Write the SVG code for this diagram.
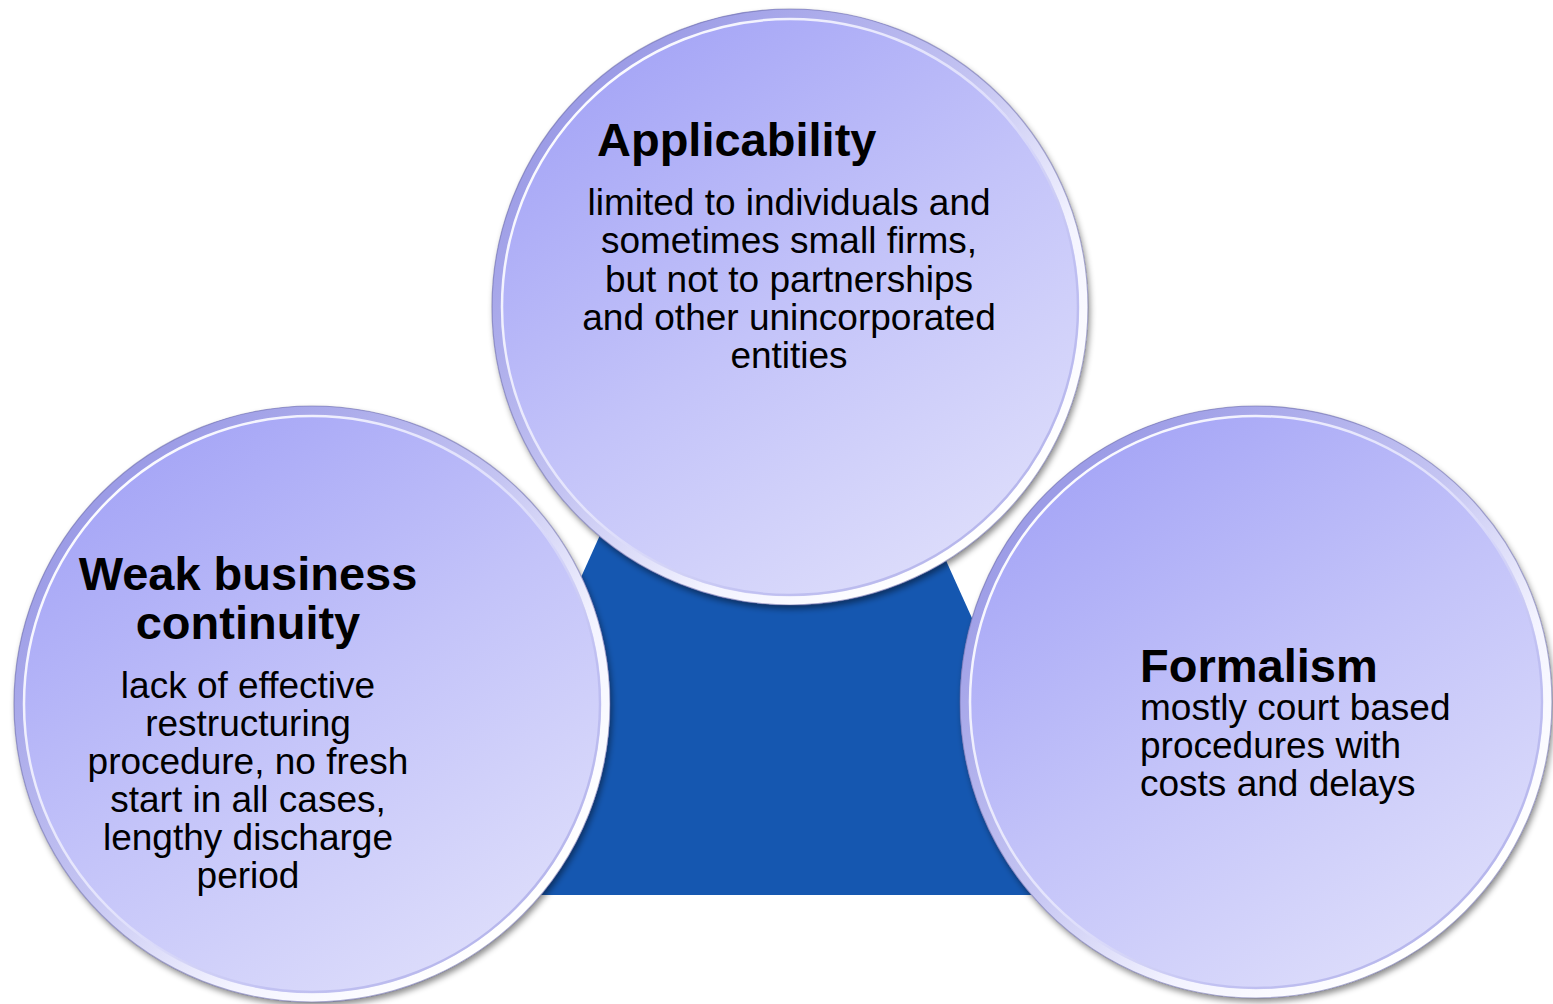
<svg xmlns="http://www.w3.org/2000/svg" width="1553" height="1004" viewBox="0 0 1553 1004">
  <defs>
    <!-- lavender body of each disc: darker at top-left, paler toward bottom-right -->
    <linearGradient id="discFill" x1="0.2" y1="0.05" x2="0.8" y2="0.95">
      <stop offset="0" stop-color="#a4a4f6"/>
      <stop offset="0.5" stop-color="#c3c3f9"/>
      <stop offset="1" stop-color="#dedefb"/>
    </linearGradient>
    <!-- bevelled rim: shaded on the upper-left, catching light on the lower-right -->
    <linearGradient id="rimBand" x1="0.15" y1="0.15" x2="0.85" y2="0.85">
      <stop offset="0" stop-color="#9c9ce6"/>
      <stop offset="0.45" stop-color="#c4c4f2"/>
      <stop offset="0.75" stop-color="#f4f4ff"/>
      <stop offset="1" stop-color="#ffffff"/>
    </linearGradient>
    <linearGradient id="rimGlint" x1="0.15" y1="0.15" x2="0.85" y2="0.85">
      <stop offset="0" stop-color="#ffffff" stop-opacity="0.95"/>
      <stop offset="0.5" stop-color="#ffffff" stop-opacity="0.5"/>
      <stop offset="0.8" stop-color="#b4b4ec" stop-opacity="0.6"/>
      <stop offset="1" stop-color="#a8a8e6" stop-opacity="0.7"/>
    </linearGradient>
    <filter id="discShadow" x="-10%" y="-10%" width="125%" height="125%">
      <feDropShadow dx="2" dy="4" stdDeviation="3" flood-color="#000000" flood-opacity="0.45"/>
    </filter>
    <style>
      .disc { fill: url(#discFill); filter: url(#discShadow); }
      .rim { fill: none; stroke: url(#rimBand); stroke-width: 9; }
      .glint { fill: none; stroke: url(#rimGlint); stroke-width: 2.5; }
      .edge { fill: none; stroke: #6c6ca6; stroke-opacity: 0.55; stroke-width: 1.2; }
      .title { font-family: "Liberation Sans", Arial, sans-serif; font-weight: bold; font-size: 47px; fill: #000000; }
      .body { font-family: "Liberation Sans", Arial, sans-serif; font-size: 37px; fill: #000000; }
      .mid { text-anchor: middle; }
    </style>
  </defs>

  <rect width="1553" height="1004" fill="#ffffff"/>

  <!-- blue triangle behind the three discs -->
  <g id="backdrop">
    <polygon points="767,164 1097,895 438,895" fill="#1557b0"/>
  </g>

  <g id="connectors"/>

  <!-- left disc -->
  <g id="node-continuity">
    <circle class="disc" cx="312" cy="704" r="298"/>
    <circle class="rim" cx="312" cy="704" r="293.5"/>
    <circle class="glint" cx="312" cy="704" r="288"/>
    <circle class="edge" cx="312" cy="704" r="298"/>
    <text class="title mid" x="248" y="590">Weak business</text>
    <text class="title mid" x="248" y="639">continuity</text>
    <text class="body mid" x="248" y="698">lack of effective</text>
    <text class="body mid" x="248" y="736">restructuring</text>
    <text class="body mid" x="248" y="774">procedure, no fresh</text>
    <text class="body mid" x="248" y="812">start in all cases,</text>
    <text class="body mid" x="248" y="850">lengthy discharge</text>
    <text class="body mid" x="248" y="888">period</text>
  </g>

  <!-- right disc -->
  <g id="node-formalism">
    <circle class="disc" cx="1256" cy="702" r="296"/>
    <circle class="rim" cx="1256" cy="702" r="291.5"/>
    <circle class="glint" cx="1256" cy="702" r="286"/>
    <circle class="edge" cx="1256" cy="702" r="296"/>
    <text class="title" x="1140" y="682">Formalism</text>
    <text class="body" x="1140" y="720">mostly court based</text>
    <text class="body" x="1140" y="758">procedures with</text>
    <text class="body" x="1140" y="796">costs and delays</text>
  </g>

  <!-- top disc -->
  <g id="node-applicability">
    <circle class="disc" cx="790" cy="307" r="298"/>
    <circle class="rim" cx="790" cy="307" r="293.5"/>
    <circle class="glint" cx="790" cy="307" r="288"/>
    <circle class="edge" cx="790" cy="307" r="298"/>
    <text class="title" x="597" y="156">Applicability</text>
    <text class="body mid" x="789" y="215">limited to individuals and</text>
    <text class="body mid" x="789" y="253">sometimes small firms,</text>
    <text class="body mid" x="789" y="292">but not to partnerships</text>
    <text class="body mid" x="789" y="330">and other unincorporated</text>
    <text class="body mid" x="789" y="368">entities</text>
  </g>
</svg>
